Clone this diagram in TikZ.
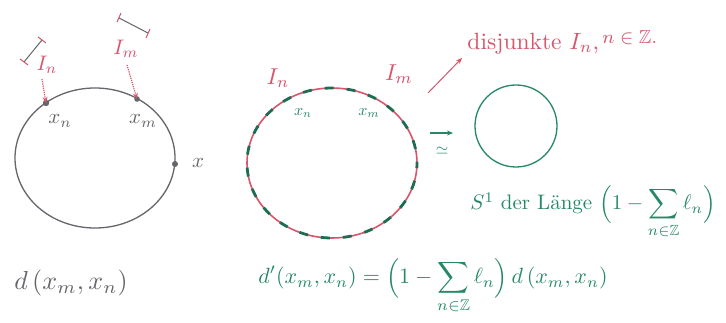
\documentclass[tikz,border=0pt]{standalone}
\usepackage{amssymb}
\usetikzlibrary{arrows.meta}
\definecolor{myred}{RGB}{214,86,108}
\definecolor{mygreen}{RGB}{38,136,102}
\definecolor{mygrey}{RGB}{100,102,108}
\tikzset{
  greytxt/.style={text=mygrey, inner sep=0pt},
  redtxt/.style={text=myred, inner sep=0pt},
  greentxt/.style={text=mygreen, inner sep=0pt},
  ptdot/.style={fill=mygrey, draw=none},
  brack/.style={mygrey, line width=1pt},
  tick/.style={myred, line width=1pt},
  redarrow/.style={myred, line width=1pt, -{Stealth[length=6pt,width=5pt]}},
}
\begin{document}
\begin{tikzpicture}[x=1pt,y=-1pt]
\useasboundingbox[fill=white] (0,0) rectangle (726,323);

% ---------- left picture ----------
\draw[mygrey, line width=1.3pt] (95,158) ellipse [x radius=80, y radius=70];
\coordinate (xn) at (46,103);
\coordinate (xm) at (137,99);
\coordinate (xx) at (175,164);
\fill[ptdot] (xn) circle (3.2);
\fill[ptdot] (xm) circle (2.8);
\fill[ptdot] (xx) circle (3);
\node[greytxt, scale=2.1] (lxn) at (60,121) {$x_n$};
\node[greytxt, scale=2.1] (lxm) at (143,121) {$x_m$};
\node[greytxt, scale=2.1] (lx) at (198,163) {$x$};

% I_n bracket
\draw[brack] (24,62) -- (42,40);
\draw[tick] (20,59) -- (28,65);
\draw[tick] (38,37) -- (46,43);
\node[redtxt, scale=2.1] (lIn) at (47,65) {$I_n$};
\coordinate (aInS) at (42,79);
\draw[myred, line width=1.2pt, densely dotted, -{Stealth[length=6pt,width=5pt]}] (aInS) -- (xn);
% I_m bracket
\draw[brack] (119,18) -- (148,33);
\draw[tick] (121,13) -- (117,22);
\draw[tick] (150,29) -- (146,38);
\node[redtxt, scale=2.1] (lIm) at (126,49) {$I_m$};
\coordinate (aImS) at (127,65);
\draw[myred, line width=1.2pt, densely dotted, -{Stealth[length=6pt,width=5pt]}] (aImS) -- (xm);

\node[greytxt, scale=2.6] (dl) at (71,283) {$d\,(x_m,x_n)$};

% ---------- middle picture ----------
\draw[myred, line width=1.6pt] (332,163) ellipse [x radius=85, y radius=75];
\draw[mygreen!80!black, line width=2.8pt, dash pattern=on 9pt off 13pt, dash phase=4pt] (332,163) ellipse [x radius=85, y radius=75];
\node[redtxt, scale=2.3] (mIn) at (278,78) {$I_n$};
\node[redtxt, scale=2.3] (mIm) at (399,74) {$I_m$};
\node[greentxt, scale=1.6] (mxn) at (303,113) {$x_n$};
\node[greentxt, scale=1.6] (mxm) at (369,113) {$x_m$};

% red arrow and text
\coordinate (ra1) at (428,93);
\coordinate (ra2) at (462,58);
\draw[redarrow] (ra1) -- (ra2);
\node[redtxt, scale=2.35, anchor=west] (disj) at (467,42) {disjunkte $I_n$,\raisebox{0.6ex}{\footnotesize$\,n\in\mathbb{Z}.$}};

% iso arrow
\coordinate (ga1) at (430,133);
\coordinate (ga2) at (453,133);
\draw[mygreen, line width=1.1pt, -{Stealth[length=6pt,width=5pt]}] (ga1) -- (ga2);
\node[greentxt, scale=1.6] (iso) at (442,151) {$\simeq$};

% right circle
\draw[mygreen, line width=1.3pt] (516,126) circle [radius=41];
\node[greentxt, scale=2.1, anchor=west] (s1) at (470,212) {$S^1$ der L\"ange $\displaystyle\Bigl(1-\sum_{n\in\mathbb{Z}}\ell_n\Bigr)$};

% bottom formula
\node[greentxt, scale=2.2] (dprime) at (433,286) {$\displaystyle d'(x_m,x_n)=\Bigl(1-\sum_{n\in\mathbb{Z}}\ell_n\Bigr)\,d\,(x_m,x_n)$};
\end{tikzpicture}
\end{document}
